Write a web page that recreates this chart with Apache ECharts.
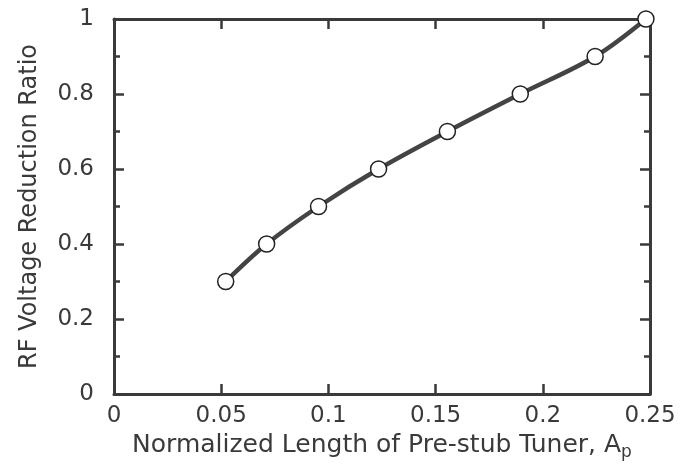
<!DOCTYPE html>
<html>
<head>
<meta charset="utf-8">
<script src="https://cdn.jsdelivr.net/npm/echarts@6/dist/echarts.min.js"></script>
<style>
  html, body { margin: 0; padding: 0; background: #fff; }
  #chart { width: 691px; height: 464px; }
</style>
</head>
<body>
<div id="chart"></div>
<script>
// 读图得到的数据点
var tunerLength = [0.0521, 0.0712, 0.0954, 0.1234, 0.1555, 0.1895, 0.2244, 0.2481];
var voltageRatio = [0.3, 0.4, 0.5, 0.6, 0.7, 0.8, 0.9, 1.0];

var xName = 'Normalized Length of Pre-stub Tuner, A{sub|p}';
var yName = 'RF Voltage Reduction Ratio';

var ink = '#3a3a3a';
var font = 'DejaVu Sans';

var points = [];
for (var i = 0; i < tunerLength.length; i++)
    points.push([tunerLength[i], voltageRatio[i]]);

function frameAxis(pos, isX){
    // 只画边框和内向刻度，不显示标签
    var ax = {
        type: 'value',
        position: pos,
        min: 0,
        max: isX ? 0.25 : 1,
        interval: isX ? 0.05 : 0.2,
        axisLine: { show: true, onZero: false, lineStyle: { color: ink, width: 3 } },
        axisTick: { show: true, inside: true, length: 10, lineStyle: { color: ink, width: 2.5 } },
        axisLabel: { show: false },
        splitLine: { show: false }
    };
    if (!isX)
        ax.minorTick = { show: true, splitNumber: 2, length: 6, lineStyle: { color: ink, width: 2.5 } };
    return ax;
}

var xBottom = frameAxis('bottom', true);
xBottom.name = xName;
xBottom.nameLocation = 'middle';
xBottom.nameGap = 33;
xBottom.nameTextStyle = {
    fontFamily: font, fontSize: 25, color: ink,
    rich: { sub: { fontFamily: font, fontSize: 17, color: ink, padding: [14, 0, 0, 0] } }
};
xBottom.axisLabel = { show: true, fontFamily: font, fontSize: 23, color: ink, margin: 11 };

var yLeft = frameAxis('left', false);
yLeft.name = yName;
yLeft.nameLocation = 'middle';
yLeft.nameGap = 72;
yLeft.nameTextStyle = { fontFamily: font, fontSize: 24, color: ink };
yLeft.axisLabel = { show: true, fontFamily: font, fontSize: 23, color: ink, margin: 20 };

var option = {
    backgroundColor: '#fff',
    animation: false,
    grid: { left: 114, right: 41, top: 19, bottom: 70, outerBoundsMode: 'none' },
    xAxis: [xBottom, frameAxis('top', true)],
    yAxis: [yLeft, frameAxis('right', false)],
    series: [{
        type: 'line',
        data: points,
        smooth: 0.35,
        lineStyle: { color: '#444', width: 4.5 },
        symbol: 'circle',
        symbolSize: 16,
        itemStyle: { color: '#fff', borderColor: '#222', borderWidth: 1.5 },
        z: 5
    }]
};

var chart = echarts.init(document.getElementById('chart'));
chart.setOption(option);
</script>
</body>
</html>
